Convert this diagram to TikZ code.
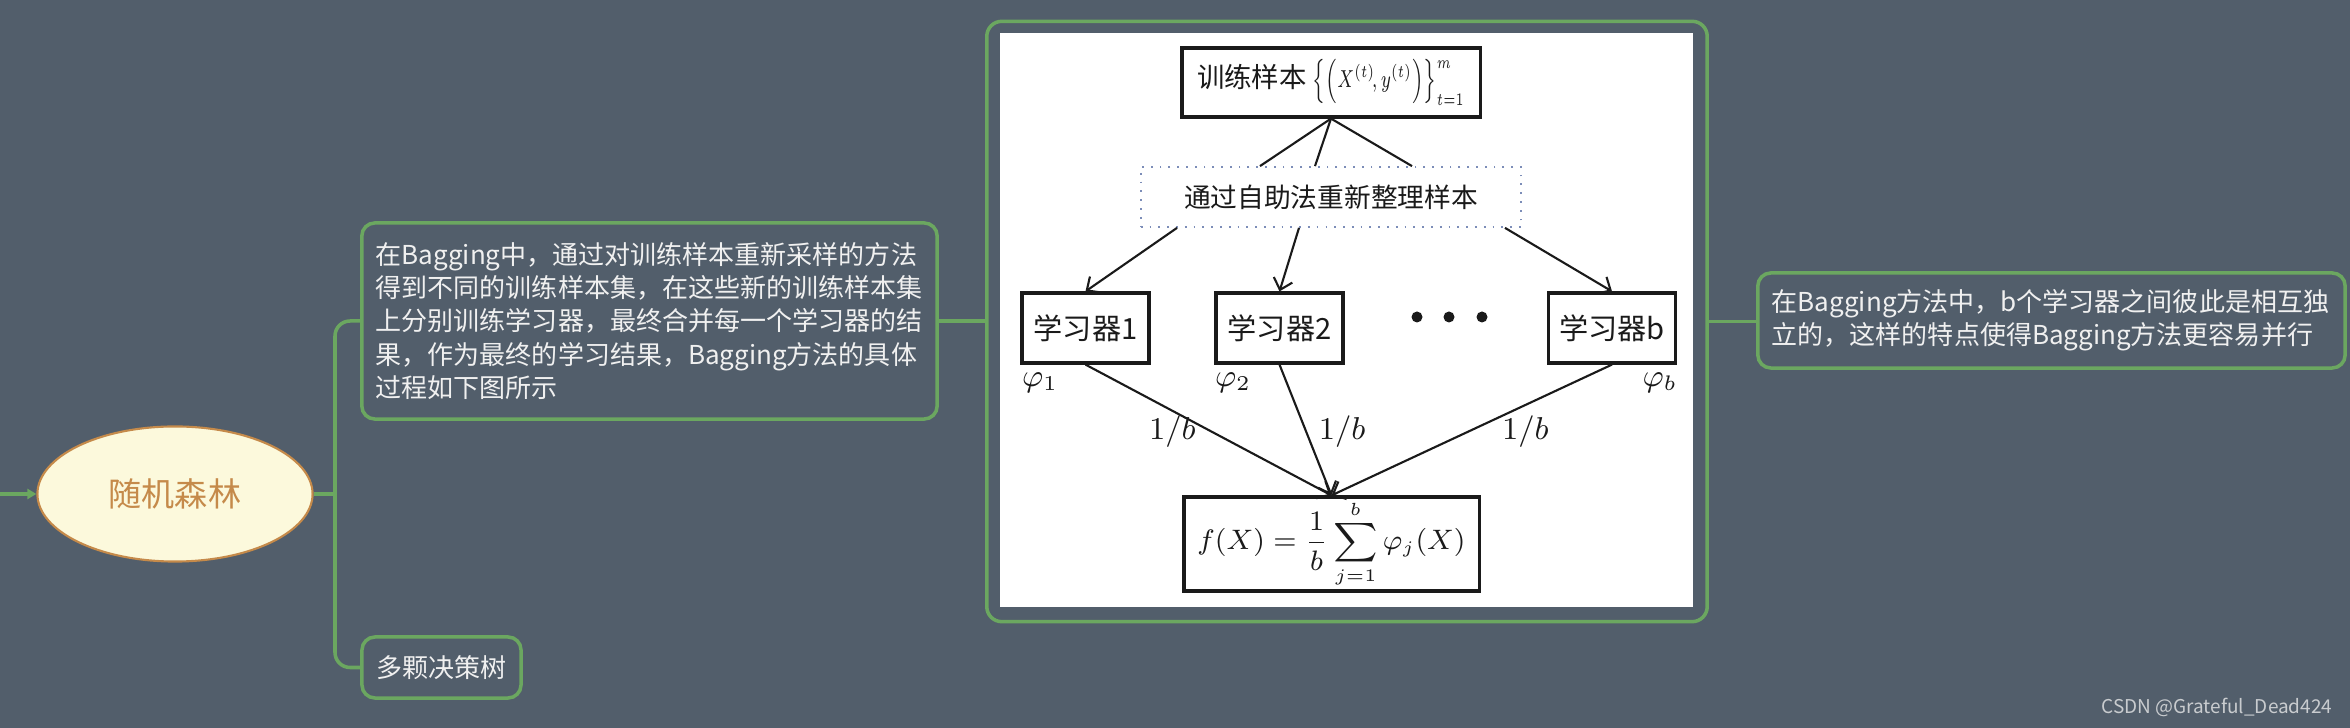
\documentclass[tikz,border=0pt]{standalone}
\usepackage{amsmath}
\usepackage{fontspec}
\usetikzlibrary{arrows.meta,positioning,calc,shapes.geometric}
\newfontfamily\cjk{Noto Sans CJK SC}
\definecolor{mapbg}{HTML}{525E6B}
\definecolor{mapgreen}{HTML}{6BA760}
\definecolor{rootfill}{HTML}{FCF9DC}
\definecolor{rootbrown}{HTML}{C58A4A}
\definecolor{notewhite}{HTML}{F0F0F0}
\definecolor{dotblue}{HTML}{7C8DB8}
\definecolor{markgray}{HTML}{C9CCCF}
\definecolor{inkblack}{HTML}{1A1A1A}

\begin{document}
\begin{tikzpicture}[x=0.01cm,y=-0.01cm,
  branch/.style={draw=mapgreen,line width=1pt},
  topic/.style={draw=mapgreen,line width=1pt,rounded corners=0.13cm,fill=mapbg,
    text=notewhite,font=\cjk\fontsize{7.4}{9.5}\selectfont,inner xsep=0.14cm,inner ysep=0pt},
  box/.style={draw=inkblack,line width=0.9pt,fill=white,inner sep=0pt,text=inkblack,
    font=\cjk\fontsize{8.3}{10}\selectfont},
  wire/.style={draw=inkblack,line width=0.6pt},
  feed/.style={wire,-{Straight Barb[length=3pt,width=5.5pt]}},
  weight/.style={text=inkblack,font=\fontsize{9}{10}\selectfont,inner sep=1pt}]
  % canvas
  \useasboundingbox (0,0) rectangle (2350,728);
  \fill[mapbg] (0,0) rectangle (2350,728);

  % mind map
  \coordinate (in) at (0,494);
  \coordinate (trunk) at (335,494);
  \node[ellipse,draw=rootbrown,fill=rootfill,line width=0.6pt,minimum width=2.75cm,
    minimum height=1.35cm,inner sep=0pt,text=rootbrown,
    font=\cjk\fontsize{9.4}{11}\selectfont] (root) at (175,494) {随机森林};
  \node[topic,text width=5.47cm,align=left,minimum height=1.96cm] (descA) at (649.5,321)
    {在Bagging中，通过对训练样本重新采样的方法\\
     得到不同的训练样本集，在这些新的训练样本集\\
     上分别训练学习器，最终合并每一个学习器的结\\
     果，作为最终的学习结果，Bagging方法的具体\\
     过程如下图所示};
  \node[topic,minimum width=1.59cm,minimum height=0.61cm] (descB) at (441.5,667.5) {多颗决策树};
  \node[draw=mapgreen,line width=1pt,rounded corners=0.15cm,minimum width=7.2cm,
    minimum height=6cm,inner sep=0pt] (pic) at (1347,321.5) {};
  \node[topic,text width=5.59cm,align=left,minimum height=0.95cm] (note) at (2051.5,320.5)
    {在Bagging方法中，b个学习器之间彼此是相互独\\
     立的，这样的特点使得Bagging方法更容易并行};

  \draw[branch,-{Triangle[length=0.09cm,width=0.1cm]}] (in) -- (root.west);
  \draw[branch] (root.east) -- (trunk);
  \draw[branch,rounded corners=0.15cm] (descA.west) -| (trunk) |- (descB.west);
  \draw[branch] (descA.east) -- (descA.east -| pic.west);
  \draw[branch] (pic.east) -- (pic.east -| note.west);

  % bagging figure
  \fill[white] (1000,33) rectangle (1693,607);
  \node[box,minimum width=2.98cm,minimum height=0.69cm,font=\cjk\fontsize{7.8}{10}\selectfont] (train)
    at (1331,82.5)
    {训练样本 \scalebox{0.68}[1]{\fontsize{7}{8}\selectfont$\Bigl\{\Bigl(X^{(t)}\!,y^{(t)}\Bigr)\Bigr\}_{t=1}^{m}$}};
  \node[draw=dotblue,dotted,line width=0.5pt,fill=white,minimum width=3.8cm,minimum height=0.6cm,
    inner sep=0pt,text=inkblack,font=\cjk\fontsize{7.6}{9}\selectfont] (boot) at (1331,197)
    {通过自助法重新整理样本};
  \foreach \nm/\xx/\lab in {learnA/1085.5/1,learnB/1279.5/2,learnN/1612/b}
    \node[box,minimum width=1.27cm,minimum height=0.7cm] (\nm) at (\xx,328) {学习器\lab};
  \foreach \xx in {1417,1449,1482}
    \fill[inkblack] (\xx,317) circle[radius=0.055cm];
  \node[weight] (phiA) at (1040,383) {$\varphi_1$};
  \node[weight] (phiB) at (1233,383) {$\varphi_2$};
  \node[weight] (phiN) at (1660,383) {$\varphi_b$};
  \node[box,minimum width=2.95cm,minimum height=0.94cm,font=\fontsize{7.8}{10}\selectfont] (agg)
    at (1331.5,544) {$\displaystyle f(X)=\frac{1}{b}\sum_{j=1}^{b}\varphi_j(X)$};

  \foreach \dx in {-71,-16,81}
    \draw[wire] (train.south) -- ($(boot.north)+(\dx,0)$);
  \draw[feed] ($(boot.south)+(-154,0)$) -- (learnA.north);
  \draw[feed] ($(boot.south)+(-32,0)$) -- (learnB.north);
  \draw[feed] ($(boot.south)+(174,0)$) -- (learnN.north);
  \draw[feed] (learnA.south) -- node[weight,pos=0.515,anchor=east,xshift=-0.12cm] {$1/b$} (agg.north);
  \draw[feed] (learnB.south) -- node[weight,pos=0.515,anchor=west,xshift=0.08cm] {$1/b$} (agg.north);
  \draw[feed] (learnN.south) -- node[weight,pos=0.515,anchor=west,xshift=0.3cm] {$1/b$} (agg.north);

  \node[anchor=east,inner sep=0pt,text=markgray,font=\cjk\fontsize{5.4}{6}\selectfont] (mark)
    at (2333,707) {CSDN @Grateful\_Dead424};
\end{tikzpicture}
\end{document}
